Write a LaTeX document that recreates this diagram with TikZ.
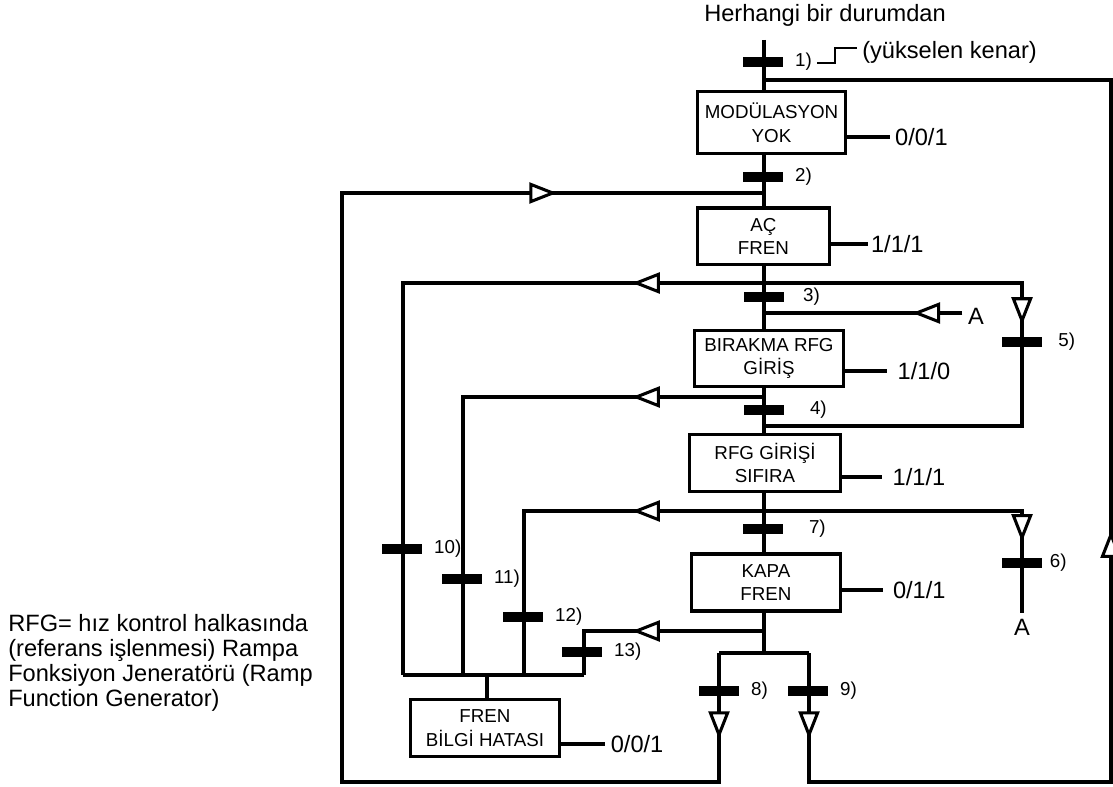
\documentclass[tikz,border=0pt]{standalone}
\usepackage{fontspec}
\setmainfont{Liberation Sans}
\usetikzlibrary{arrows.meta,decorations.markings}

\tikzset{
  flow/.style={line width=2.2pt},
  stbox/.style={draw, line width=2.2pt, fill=white, align=center, inner sep=2pt,
    minimum width=107pt, minimum height=41pt, font=\fontsize{13.5}{17}\selectfont},
  trans/.style={fill=black, inner sep=0pt, minimum width=29.5pt, minimum height=6.5pt},
  barlbl/.style={font=\fontsize{13.5}{15}\selectfont, inner sep=0pt, label distance=8pt},
  outlbl/.style={font=\fontsize{17}{20}\selectfont, inner sep=1pt, anchor=west},
  txt/.style={font=\fontsize{17}{20}\selectfont},
  midtip/.style={postaction={decorate, decoration={markings,
    mark=at position #1 with {\arrow{Triangle[fill=white, length=20pt, width=15pt]}}}}},
}

\begin{document}
\begin{tikzpicture}[x=0.72pt, y=-0.72pt]
  \useasboundingbox (0,0) rectangle (1113,787);

  % junctions on the main chain
  \coordinate (top) at (764,40);
  \coordinate (j1) at (764,80);
  \coordinate (j2) at (764,193);
  \coordinate (j3) at (764,283);
  \coordinate (jA) at (764,313);
  \coordinate (j4) at (764,397);
  \coordinate (j5) at (764,426);
  \coordinate (j7) at (764,511);
  \coordinate (j13) at (764,631);
  \coordinate (jsplit) at (764,653);
  % corners of the side loops
  \coordinate (r3) at (1022,283);
  \coordinate (r5) at (1022,426);
  \coordinate (r7) at (1022,511);
  \coordinate (l3) at (403,283);
  \coordinate (l4) at (463,397);
  \coordinate (l7) at (524,511);
  \coordinate (l13) at (584,631);
  \coordinate (q3) at (403,675);
  \coordinate (q4) at (463,675);
  \coordinate (q7) at (524,675);
  \coordinate (q13) at (584,675);
  \coordinate (qf) at (487,675);
  \coordinate (s8) at (719,653);
  \coordinate (s9) at (809,653);
  \coordinate (d8) at (719,782);
  \coordinate (d9) at (809,782);
  \coordinate (lb) at (342,782);
  \coordinate (lt) at (342,193);
  \coordinate (rb) at (1111,782);
  \coordinate (rt) at (1111,80);

  \draw[flow] (top) -- (jsplit);

  % states
  \node[stbox, minimum width=106.5pt, minimum height=44.6pt] (mod) at (771.5,122.5) {MODÜLASYON\\YOK};
  \node[stbox, minimum width=95pt] (ac) at (763.5,236.5) {AÇ\\FREN};
  \node[stbox, minimum height=40.3pt] (bir) at (769,358.5) {BIRAKMA RFG\\GİRİŞ};
  \node[stbox, minimum width=108.7pt] (rfg) at (765,463) {RFG GİRİŞİ\\SIFIRA};
  \node[stbox] (kapa) at (766,582.5) {KAPA\\FREN};
  \node[stbox] (fbh) at (485,728) {FREN\\BİLGİ HATASI};

  % outputs
  \node[outlbl, inner xsep=3.5pt] (omod) at (890,137) {0/0/1};
  \node[outlbl, inner xsep=2pt] (oac) at (868,244) {1/1/1};
  \node[outlbl, inner xsep=7.5pt] (obir) at (887,371) {1/1/0};
  \node[outlbl, inner xsep=7.5pt] (orfg) at (882,477) {1/1/1};
  \node[outlbl, inner xsep=7pt] (okapa) at (883,590) {0/1/1};
  \node[outlbl, inner xsep=4pt] (ofbh) at (605,744) {0/0/1};
  \draw[flow] (mod.east |- omod) -- (omod);
  \draw[flow] (ac.east |- oac) -- (oac);
  \draw[flow] (bir.east |- obir) -- (obir);
  \draw[flow] (rfg.east |- orfg) -- (orfg);
  \draw[flow] (kapa.east |- okapa) -- (okapa);
  \draw[flow] (fbh.east |- ofbh) -- (ofbh);

  % texts
  \node[txt] (title) at (825,15) {Herhangi bir durumdan};
  \node[txt, anchor=west, inner sep=0pt] (edge) at (862,52) {(yükselen kenar)};
  \draw[line width=0.8pt] (817,63) -- (835,63) -- (835,48) -- (857,48);
  \node[txt, inner xsep=4pt] (aIn) at (976,316) {A};
  \node[txt, inner sep=4pt] (aOut) at (1022,627) {A};
  \node[anchor=north west, align=left, inner sep=0pt, font=\fontsize{17}{18}\selectfont] (note) at (8,614)
    {RFG= hız kontrol halkasında\\(referans işlenmesi) Rampa\\Fonksiyon Jeneratörü (Ramp\\Function Generator)};

  % branches back to the fault state
  \draw[flow, midtip=95pt] (j3) -- (l3) -- (q3);
  \draw[flow, midtip=95pt] (j4) -- (l4) -- (q4);
  \draw[flow, midtip=95pt] (j7) -- (l7) -- (q7);
  \draw[flow, midtip=95pt] (j13) -- (l13) -- (q13);
  \draw[flow] (q3) -- (q13);
  \draw[flow] (qf) -- (qf |- fbh.north);

  % right side loops
  \draw[flow, midtip=216pt] (j3) -- (r3) -- (r5) -- (j5);
  \draw[flow, midtip=208pt] (j7) -- (r7) -- (aOut.north);
  \draw[flow, midtip=36pt] (aIn.west |- jA) -- (jA);

  % outer loops
  \draw[flow] (s8) -- (s9);
  \draw[flow, midtip=62pt, midtip=-149pt] (s8) -- (d8) -- (lb) -- (lt) -- (j2);
  \draw[flow, midtip=62pt, midtip=-574pt] (s9) -- (d9) -- (rb) -- (rt) -- (j1);

  % transitions
  \node[trans, label={[barlbl]right:1)}] (t1) at (763,62) {};
  \node[trans, label={[barlbl]right:2)}] (t2) at (763,177) {};
  \node[trans, label={[barlbl, label distance=13pt]right:3)}] (t3) at (764,297) {};
  \node[trans, label={[barlbl, label distance=18pt]right:4)}] (t4) at (764,410) {};
  \node[trans, label={[barlbl, label distance=11pt]right:5)}] (t5) at (1022,342) {};
  \node[trans, label={[barlbl, label distance=5pt]right:6)}] (t6) at (1022,563) {};
  \node[trans, label={[barlbl, label distance=18pt]right:7)}] (t7) at (763,529) {};
  \node[trans, label={[barlbl]right:8)}] (t8) at (719,691) {};
  \node[trans, label={[barlbl]right:9)}] (t9) at (808,691) {};
  \node[trans, label={[barlbl]right:10)}] (t10) at (402,549) {};
  \node[trans, label={[barlbl]right:11)}] (t11) at (462,579) {};
  \node[trans, label={[barlbl]right:12)}] (t12) at (523,617) {};
  \node[trans, label={[barlbl]right:13)}] (t13) at (582,652) {};
\end{tikzpicture}
\end{document}
